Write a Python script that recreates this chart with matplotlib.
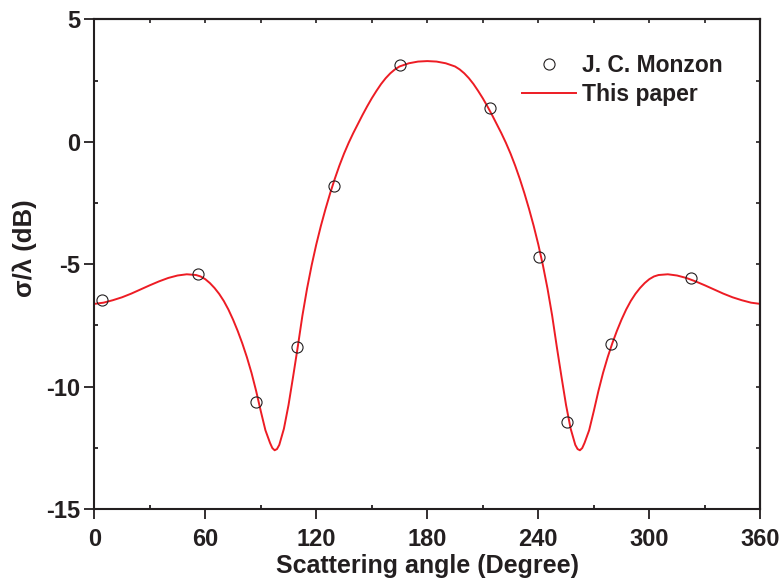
import matplotlib
matplotlib.use("Agg")
import matplotlib.pyplot as plt
from matplotlib.ticker import MultipleLocator

# Reference data (J. C. Monzon)
ref_angle = [4, 56, 87.6, 109.7, 129.4, 165.2, 213.9, 240.5, 255.5, 279.1, 322.5]
ref_val = [-6.46, -5.40, -10.62, -8.39, -1.79, 3.14, 1.37, -4.69, -11.45, -8.25, -5.58]

# This paper (curve)
cur_angle = [0, 5, 10, 15, 20, 25, 30, 35, 40, 45, 50, 55, 57.5, 60, 62.5, 65,
             67.5, 70, 72.5, 75, 77.5, 80, 82.5, 85, 87.5, 90, 92.5, 95, 96.25,
             97.5, 98.75, 100, 102.5, 105, 107.5, 110, 112.5, 115, 117.5, 120,
             122.5, 125, 127.5, 130, 132.5, 135, 137.5, 140, 142.5, 145, 147.5,
             150, 152.5, 155, 157.5, 160, 162.5, 165, 170, 175, 180,
             185, 190, 195, 197.5, 200, 202.5, 205, 207.5, 210, 212.5, 215,
             217.5, 220, 222.5, 225, 227.5, 230, 232.5, 235, 237.5, 240, 242.5,
             245, 247.5, 250, 252.5, 255, 257.5, 260, 261.25, 262.5, 263.75,
             265, 267.5, 270, 272.5, 275, 277.5, 280, 282.5, 285, 287.5, 290,
             292.5, 295, 297.5, 300, 302.5, 305, 310, 315, 320, 325, 330, 335,
             340, 345, 350, 355, 360]
cur_val = [-6.62, -6.57, -6.47, -6.35, -6.2, -6.03, -5.86, -5.7, -5.56, -5.46,
           -5.41, -5.44, -5.50, -5.61, -5.77, -5.97,
           -6.21, -6.50, -6.85, -7.26, -7.72, -8.23, -8.80, -9.44, -10.18,
           -11.0, -11.78, -12.30, -12.51,
           -12.6, -12.55, -12.38, -11.72, -10.75, -9.58, -8.37, -7.10, -6.00,
           -5.04, -4.19,
           -3.43, -2.74, -2.10, -1.51, -0.97, -0.48, -0.04, 0.36, 0.73, 1.10,
           1.45, 1.78, 2.08, 2.36, 2.60, 2.80, 2.96, 3.08, 3.21, 3.28, 3.30,
           3.28, 3.21, 3.08, 2.96, 2.80, 2.60, 2.36, 2.08, 1.78, 1.45, 1.10,
           0.73, 0.36, -0.04, -0.48, -0.97, -1.51, -2.10, -2.74, -3.43, -4.19,
           -5.04, -6.00, -7.10, -8.37, -9.58, -10.75, -11.72, -12.38, -12.55,
           -12.6, -12.51,
           -12.30, -11.78, -11.0, -10.18, -9.44, -8.80, -8.23, -7.72, -7.26,
           -6.85, -6.50,
           -6.21, -5.97, -5.77, -5.61, -5.50, -5.44, -5.41, -5.46, -5.56, -5.7,
           -5.86, -6.03,
           -6.2, -6.35, -6.47, -6.57, -6.62]

xticks = [0, 60, 120, 180, 240, 300, 360]
yticks = [-15, -10, -5, 0, 5]

txt = "#231f20"
plt.rcParams['font.family'] = ['Liberation Sans', 'DejaVu Sans']
plt.rcParams['font.weight'] = 'bold'
plt.rcParams['axes.unicode_minus'] = False

fig = plt.figure(figsize=(7.83, 5.83), dpi=100)
ax = fig.add_axes([0.1204, 0.1269, 0.8506, 0.8397])

ax.plot(cur_angle, cur_val, color="#ed1c24", lw=1.4, label="This paper", zorder=2)
ax.plot(ref_angle, ref_val, linestyle="none", marker="o", markersize=8,
        markerfacecolor="none", markeredgecolor=txt, markeredgewidth=0.8,
        label="J. C. Monzon", zorder=3)

ax.set_xlim(0, 360)
ax.set_ylim(-15, 5)
ax.set_xticks(xticks)
ax.set_yticks(yticks)
ax.xaxis.set_minor_locator(MultipleLocator(30))
ax.yaxis.set_minor_locator(MultipleLocator(2.5))
ax.tick_params(which='major', direction='out', length=7, width=1.3, colors=txt,
               labelsize=17)
ax.tick_params(axis='y', which='major', pad=3)
ax.tick_params(axis='x', which='major', pad=7)
ax.tick_params(which='minor', direction='in', length=3, width=1.3, colors=txt)
for lab in ax.get_xticklabels() + ax.get_yticklabels():
    lab.set_fontweight('bold')
for s in ax.spines.values():
    s.set_linewidth(1.5)
    s.set_color(txt)

secx = ax.secondary_xaxis('top')
secx.set_xticks(list(range(0, 361, 30)))
secx.tick_params(direction='in', length=3, width=1.2, colors=txt, labeltop=False)
secx.spines['top'].set_linewidth(1.5)
secx.spines['top'].set_color(txt)
secy = ax.secondary_yaxis('right')
secy.set_yticks([-15 + 2.5 * i for i in range(9)])
secy.tick_params(direction='in', length=3, width=1.2, colors=txt, labelright=False)
secy.spines['right'].set_linewidth(1.5)
secy.spines['right'].set_color(txt)

ax.set_xlabel("Scattering angle (Degree)", fontsize=18, fontweight='bold',
              color=txt, labelpad=2)
ax.set_ylabel("σ/λ (dB)", fontsize=18.5, fontweight='bold', color=txt)
ax.yaxis.set_label_coords(-0.086, 0.533)

handles, labels = ax.get_legend_handles_labels()
leg = ax.legend(handles[::-1], labels[::-1], loc='upper left',
                bbox_to_anchor=(0.642, 0.9295), frameon=False, fontsize=16.5,
                handlelength=2.36, handletextpad=0.26, labelspacing=0.27,
                borderpad=0, borderaxespad=0)
for t in leg.get_texts():
    t.set_fontweight('bold')
    t.set_color(txt)

fig.savefig("out.png", dpi=100)
